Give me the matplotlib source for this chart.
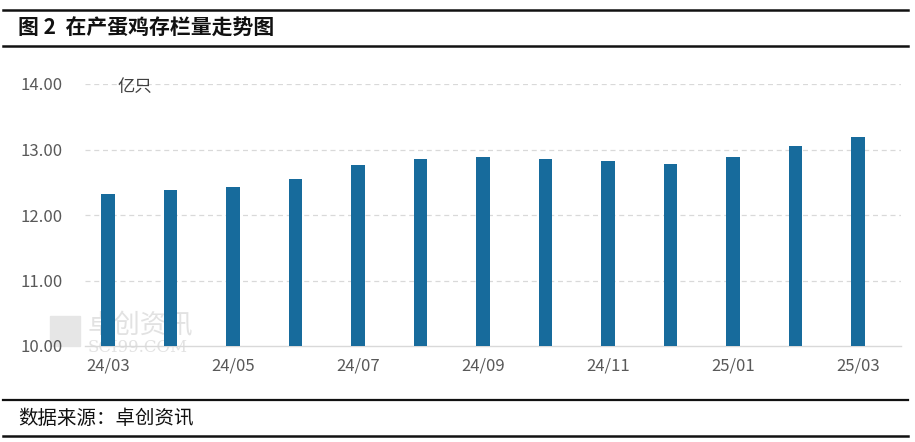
import matplotlib
matplotlib.use("Agg")
import matplotlib.pyplot as plt
from matplotlib.patches import Rectangle
from matplotlib.lines import Line2D

plt.rcParams['font.family'] = ['Noto Sans CJK SC', 'DejaVu Sans']

months = ['24/03', '24/04', '24/05', '24/06', '24/07', '24/08', '24/09',
          '24/10', '24/11', '24/12', '25/01', '25/02', '25/03']
values = [12.32, 12.385, 12.43, 12.55, 12.76, 12.86, 12.88,
          12.86, 12.82, 12.78, 12.88, 13.05, 13.19]
yticks = [10.00, 11.00, 12.00, 13.00, 14.00]
title = '图 2  在产蛋鸡存栏量走势图'
unit = '亿只'
source = '数据来源：卓创资讯'

W, H = 915, 442
fig = plt.figure(figsize=(W / 100, H / 100), dpi=100)

def fx(px):
    return px / W

def fy(py):
    return 1 - py / H

# axes: x 85..901 px, y 84 (14.00) .. 346 (10.00)
ax = fig.add_axes([fx(85), fy(346), fx(901) - fx(85), fy(84) - fy(346)])
ax.set_zorder(2)
ax.patch.set_alpha(0)
x = list(range(len(months)))
ax.bar(x, values, width=0.22, bottom=0, color='#176b9c', zorder=3)
ax.set_ylim(10, 14)
ax.set_xlim(-0.37, 12.69)
ax.set_yticks(yticks)
ax.set_yticklabels([f'{v:.2f}' for v in yticks])
ax.set_xticks(x[::2])
ax.set_xticklabels(months[::2])
ax.tick_params(axis='both', length=0, colors='#595959', labelsize=12)
ax.tick_params(axis='y', pad=16)
ax.tick_params(axis='x', pad=8)
for s in ['top', 'right', 'left']:
    ax.spines[s].set_visible(False)
ax.spines['bottom'].set_color('#d9d9d9')
ax.spines['bottom'].set_linewidth(1)
for v in yticks[1:]:
    ax.axhline(v, color='#d9d9d9', linestyle=(0, (4, 3)), linewidth=0.9, zorder=1)

# unit label
fig.text(fx(118), fy(87), unit, fontsize=12.5, color='#404040', va='center', ha='left')

# watermark (behind the bars)
fig.patches.append(Rectangle((fx(50), fy(346)), fx(30), fy(316) - fy(346),
                             transform=fig.transFigure, color='#e6e6e6', zorder=0))
fig.text(fx(88), fy(326), '卓创资讯', fontsize=19, color='#e2e2e2', va='center', ha='left', zorder=0)
fig.text(fx(88), fy(347), 'SCI99.COM', fontsize=12, color='#e2e2e2', va='center', ha='left',
         family=['DejaVu Serif'], zorder=0)

# title and frame lines
for py, lw in [(10, 1.8), (46, 1.8), (400, 1.6), (436, 1.8)]:
    fig.add_artist(Line2D([fx(3), fx(908)], [fy(py), fy(py)], color='#111111', linewidth=lw))
fig.text(fx(18), fy(28), title, fontsize=15, fontweight='bold', color='#111111', va='center', ha='left')
fig.text(fx(18), fy(418), source, fontsize=14, color='#111111', va='center', ha='left')

fig.savefig('out.png', dpi=100)
